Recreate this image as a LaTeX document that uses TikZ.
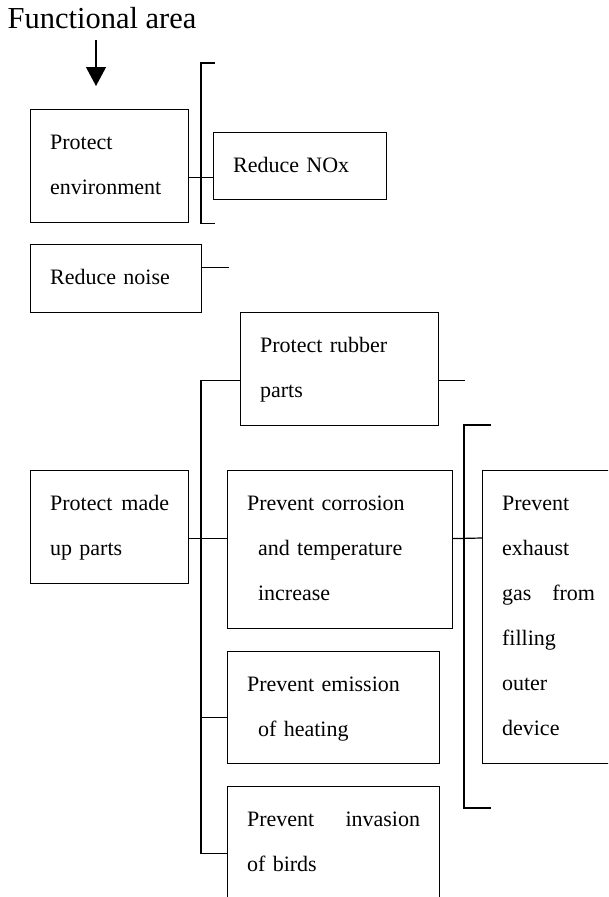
\documentclass[tikz,border=0pt]{standalone}
\usepackage{fontspec}
\setmainfont{Liberation Serif}
\usetikzlibrary{arrows.meta}

\begin{document}
\begin{tikzpicture}[x=1pt,y=-1pt,line width=1.2pt,
        box/.style={draw,rectangle,anchor=north west,inner xsep=19.5pt,inner ysep=0pt,
            text height=40pt,align=left,font=\fontsize{22}{45}\selectfont}]
        \clip (0,0) rectangle (608,897);
        \node[anchor=base west,inner sep=0pt,font=\fontsize{30.5}{36}\selectfont] (title) at (7,28) {Functional area};
        \coordinate (arrowtop) at (96,40);
        \coordinate (arrowtip) at (96,86);
        \draw[-{Triangle[width=20pt,length=19pt]}] (arrowtop) -- (arrowtip);
        % boxes
        \node[box,text width=119pt,text depth=73pt] (env) at (30,109) {Protect\\environment};
        \node[box,text width=134pt,text depth=27pt] (nox) at (213,132) {Reduce NOx};
        \node[box,text width=132pt,text depth=28pt] (noise) at (30,244) {Reduce noise};
        \node[box,text width=119pt,text depth=73pt] (madeup) at (30,470) {Protect\hfill made\\up parts};
        \node[box,text width=159pt,text depth=73pt] (rubber) at (240,312) {Protect rubber\\parts};
        \node[box,text width=186pt,text depth=118pt] (corrosion) at (227,470) {Prevent corrosion\\\hspace*{11pt}and temperature\\\hspace*{11pt}increase};
        \node[box,text width=173pt,text depth=72pt] (emission) at (227,651) {Prevent emission\\\hspace*{11pt}of heating};
        \node[box,text width=173pt,text depth=94pt] (invasion) at (227,786) {Prevent\hfill invasion\\of birds};
        \node[box,text width=93pt,text depth=253pt] (exhaust) at (482,470) {Prevent\\exhaust\\gas\hfill from\\filling\\outer\\device};
        % brackets and ticks
        \coordinate (busL) at (201,0);
        \coordinate (busR) at (464,0);
        \draw (215,63) -| (busL |- env.south) -- ++(14,0);
        \draw ([yshift=-11pt]env.east) -- ([yshift=-11pt]nox.west);
        \draw ([yshift=11pt]noise.east) -- ++(27,0);
        \draw ([yshift=-11.5pt]rubber.west) -| (busL |- invasion.west) -- (invasion.west);
        \draw ([yshift=-11.5pt]madeup.east) -- ([yshift=11pt]corrosion.west);
        \draw ([yshift=-10pt]emission.west) -- ++(-26,0);
        \draw ([yshift=-11.5pt]rubber.east) -- ++(26,0);
        \draw (491,425) -| (busR |- 0,808) -- ++(27,0);
        \draw ([yshift=11pt]corrosion.east) -- (exhaust.west |- 0,538);
    \end{tikzpicture}
\end{document}
